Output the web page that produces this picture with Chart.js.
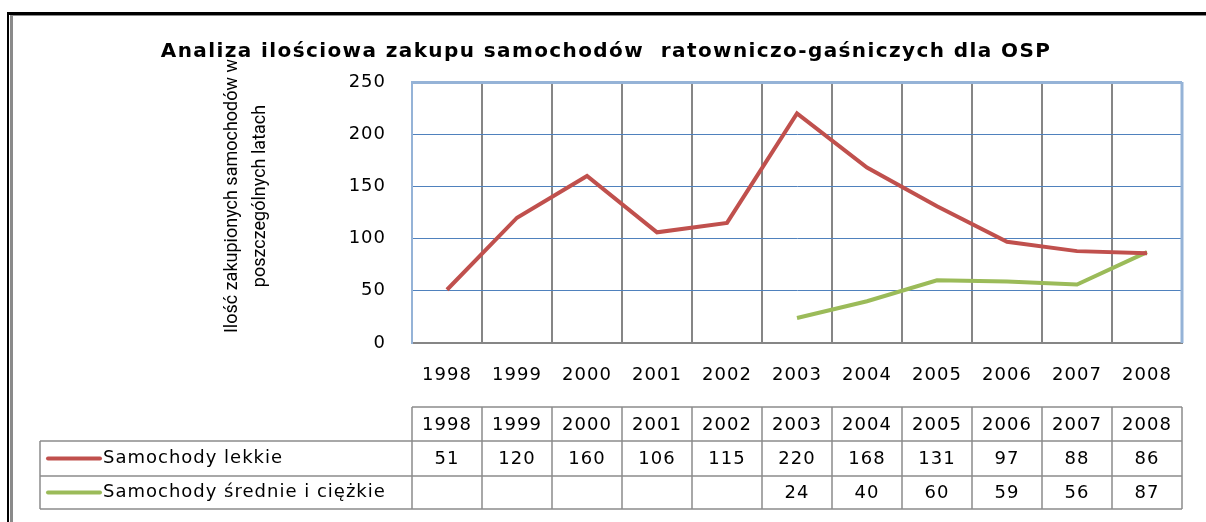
<!DOCTYPE html>
<html lang="pl">
<head>
<meta charset="utf-8">
<script src="https://cdn.jsdelivr.net/npm/chart.js@4/dist/chart.umd.min.js"></script>
<style>
  html, body { margin: 0; padding: 0; background: #fff; }
  #wrap { width: 1206px; height: 522px; }
</style>
</head>
<body>
<div id="wrap"><canvas id="chart" width="1206" height="522"></canvas></div>
<script>
/* ── data ── */
const YEARS   = ["1998", "1999", "2000", "2001", "2002", "2003", "2004", "2005", "2006", "2007", "2008"];
const LIGHT   = [51, 120, 160, 106, 115, 220, 168, 131, 97, 88, 86];
const HEAVY   = [null, null, null, null, null, 24, 40, 60, 59, 56, 87];
const Y_TICKS = [0, 50, 100, 150, 200, 250];
const SERIES  = ["Samochody lekkie", "Samochody średnie i ciężkie"];
const TITLE   = "Analiza ilościowa zakupu samochodów  ratowniczo-gaśniczych dla OSP";
const Y_TITLE = ["Ilość zakupionych samochodów w", "poszczególnych latach"];

const RED   = "#c0504d";
const GREEN = "#9bbb59";
const GRID_GRAY = "#868686";
const CELL_GRAY = "#8c8c8c";
const FONT  = '"DejaVu Sans", Verdana, sans-serif';

/* ── frame + background ── */
const framePlugin = {
  id: "frame",
  beforeDraw(chart) {
    const ctx = chart.ctx;
    ctx.save();
    ctx.fillStyle = "#fff";
    ctx.fillRect(0, 0, chart.width, chart.height);
    ctx.fillStyle = "#000";
    ctx.fillRect(7, 12, chart.width - 7, 3);
    ctx.fillRect(7, 12, 2, chart.height - 12);
    ctx.fillStyle = "#8a8a8a";
    ctx.fillRect(10, 15, 3, chart.height - 15);
    ctx.fillRect(10, 15, chart.width - 10, 1);
    ctx.restore();
    ctx.letterSpacing = "1px";
  },
  beforeDatasetsDraw(chart) {
    const { ctx, chartArea: a } = chart;
    ctx.save();
    ctx.strokeStyle = "#95b3d7";
    ctx.lineWidth = 3;
    ctx.beginPath();
    ctx.moveTo(a.right, a.top);
    ctx.lineTo(a.right, a.bottom);
    ctx.stroke();
    ctx.restore();
  },
  afterDraw(chart) {
    chart.ctx.letterSpacing = "0px";
  }
};

/* ── title + axis title ── */
const textPlugin = {
  id: "texts",
  afterDraw(chart) {
    const ctx = chart.ctx;
    ctx.save();
    ctx.fillStyle = "#000";
    ctx.textAlign = "center";
    ctx.textBaseline = "alphabetic";
    ctx.font = "bold 20px " + FONT;
    ctx.letterSpacing = "1.4px";
    ctx.fillText(TITLE, 606, 57);

    ctx.letterSpacing = "0px";
    ctx.font = '18px "Liberation Sans Narrow", Roboto, sans-serif';
    ctx.translate(0, 196);
    ctx.rotate(-Math.PI / 2);
    ctx.textBaseline = "middle";
    ctx.fillText(Y_TITLE[0], 0, 232);
    ctx.fillText(Y_TITLE[1], 0, 260);
    ctx.restore();
  }
};

/* ── data table under the plot ── */
const tablePlugin = {
  id: "dataTable",
  afterDraw(chart) {
    const ctx = chart.ctx;
    const x = chart.scales.x;
    const step = x.getPixelForValue(1) - x.getPixelForValue(0);
    const left  = x.getPixelForValue(0) - step / 2;
    const right = x.getPixelForValue(YEARS.length - 1) + step / 2;
    const rows = [407, 441, 476, 509];
    const labelLeft = 40;

    ctx.save();
    ctx.strokeStyle = CELL_GRAY;
    ctx.lineWidth = 1.5;
    ctx.beginPath();
    // horizontal lines
    ctx.moveTo(left, rows[0]);      ctx.lineTo(right, rows[0]);
    ctx.moveTo(labelLeft, rows[1]); ctx.lineTo(right, rows[1]);
    ctx.moveTo(labelLeft, rows[2]); ctx.lineTo(right, rows[2]);
    ctx.moveTo(labelLeft, rows[3]); ctx.lineTo(right, rows[3]);
    // vertical lines
    ctx.moveTo(labelLeft, rows[1]); ctx.lineTo(labelLeft, rows[3]);
    for (let i = 0; i <= YEARS.length; i++) {
      const px = left + i * step;
      ctx.moveTo(px, rows[0]);
      ctx.lineTo(px, rows[3]);
    }
    ctx.stroke();

    ctx.fillStyle = "#000";
    ctx.font = "18px " + FONT;
    ctx.letterSpacing = "1px";
    ctx.textAlign = "center";
    ctx.textBaseline = "middle";
    YEARS.forEach((yr, i) => {
      const cx = x.getPixelForValue(i);
      ctx.fillText(yr, cx, (rows[0] + rows[1]) / 2 + 1);
      ctx.fillText(String(LIGHT[i]), cx, (rows[1] + rows[2]) / 2 + 1);
      if (HEAVY[i] != null) ctx.fillText(String(HEAVY[i]), cx, (rows[2] + rows[3]) / 2 + 1);
    });

    // legend keys
    const colors = [RED, GREEN];
    SERIES.forEach((name, r) => {
      const cy = (rows[r + 1] + rows[r + 2]) / 2;
      ctx.strokeStyle = colors[r];
      ctx.lineWidth = 4;
      ctx.lineCap = "round";
      ctx.beginPath();
      ctx.moveTo(48, cy);
      ctx.lineTo(100, cy);
      ctx.stroke();
      ctx.textAlign = "left";
      ctx.fillText(name, 103, cy);
    });
    ctx.restore();
  }
};

new Chart(document.getElementById("chart"), {
  type: "line",
  data: {
    labels: YEARS,
    datasets: [
      { label: SERIES[0], data: LIGHT, borderColor: RED,   borderWidth: 4, pointRadius: 0, tension: 0 },
      { label: SERIES[1], data: HEAVY, borderColor: GREEN, borderWidth: 4, pointRadius: 0, tension: 0, spanGaps: false },
    ],
  },
  options: {
    responsive: false,
    animation: false,
    devicePixelRatio: 1,
    layout: { padding: { left: 0, top: 82, right: 24, bottom: 117 } },
    plugins: {
      legend: { display: false },
      title: { display: false },
      tooltip: { enabled: false },
    },
    scales: {
      x: {
        offset: true,
        afterFit: (s) => { s.height = 62; },
        grid: { color: GRID_GRAY, lineWidth: 2, offset: true, drawTicks: false },
        border: { color: GRID_GRAY, width: 2 },
        ticks: { color: "#000", font: { family: FONT, size: 18 }, padding: 22 },
      },
      y: {
        min: 0,
        max: 250,
        afterFit: (s) => { s.width = 412; },
        afterBuildTicks: (s) => { s.ticks = Y_TICKS.map((v) => ({ value: v })); },
        grid: {
          color: (c) => (c.tick && c.tick.value === 250 ? "#95b3d7" : "#4f81bd"),
          lineWidth: (c) => (c.tick && c.tick.value === 250 ? 3 : 1),
          drawTicks: false,
        },
        border: { color: "#95b3d7", width: 2 },
        ticks: { color: "#000", font: { family: FONT, size: 18 }, padding: 26 },
      },
    },
  },
  plugins: [framePlugin, textPlugin, tablePlugin],
});
</script>
</body>
</html>
